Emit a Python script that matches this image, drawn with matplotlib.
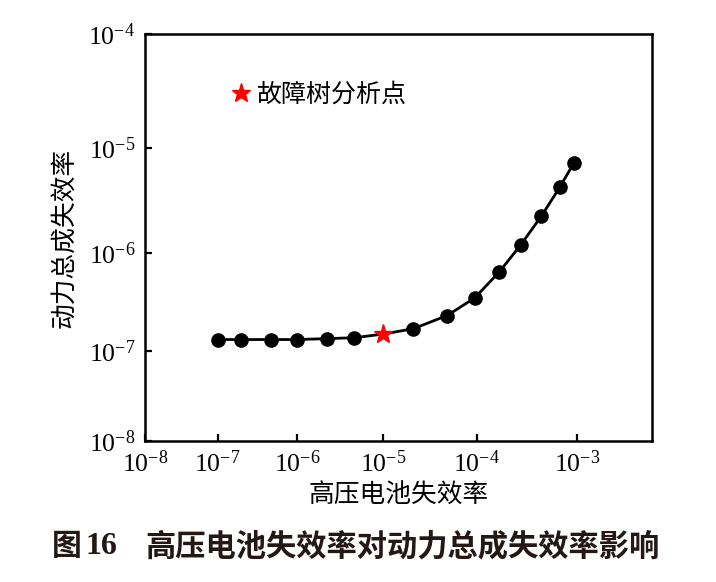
import numpy as np
import matplotlib
matplotlib.use("Agg")
import matplotlib.pyplot as plt
from matplotlib.ticker import LogLocator, LogFormatterSciNotation, NullLocator

plt.rcParams['font.family'] = ['Liberation Serif', 'Noto Sans CJK SC']
plt.rcParams['mathtext.fontset'] = 'stix'

# data
battery_rate = [1e-7, 2e-7, 4.8e-7, 1e-6, 2.27e-6, 4.7e-6, 1e-5, 2.14e-5, 4.9e-5,
                9.5e-5, 1.7e-4, 2.8e-4, 4.5e-4, 6.8e-4, 9.3e-4]
powertrain_rate = [1.33e-7, 1.33e-7, 1.33e-7, 1.33e-7, 1.36e-7, 1.39e-7, 1.52e-7,
                   1.73e-7, 2.37e-7, 3.58e-7, 6.55e-7, 1.21e-6, 2.3e-6, 4.3e-6, 7.2e-6]
fta_x = [1e-5]
fta_y = [1.52e-7]
fta_label = '故障树分析点'
xlabel = '高压电池失效率'
ylabel = '动力总成失效率'

def make_scale(k):
    def fwd(x):
        x = np.asarray(x, dtype=float)
        with np.errstate(divide='ignore', invalid='ignore'):
            u = np.log10(np.where(x > 0, x, np.nan)) + 8
        return u + k * u * u
    def inv(v):
        v = np.asarray(v, dtype=float)
        d = np.sqrt(np.maximum(1 + 4 * k * v, 0))
        u = (-1 + d) / (2 * k)
        return 10 ** (u - 8)
    return fwd, inv

fig = plt.figure(figsize=(7.16, 5.82), dpi=100)
ax = fig.add_axes([145/716, 1-441/582, (652-145)/716, (441-34)/582])

ax.set_xscale('function', functions=make_scale(0.05))
ax.set_yscale('function', functions=make_scale(0.0465))

mask = [i for i, xv in enumerate(battery_rate) if xv not in fta_x]
ax.plot(battery_rate, powertrain_rate, color='black', lw=2.0, zorder=2)
ax.plot([battery_rate[i] for i in mask], [powertrain_rate[i] for i in mask],
        ls='none', marker='o', ms=9.5, color='black', zorder=3)
ax.plot(fta_x, fta_y, ls='none', marker='*', ms=14, color='red', mec='red',
        zorder=4, label=fta_label)

ax.set_xlim(1e-8, 5.1e-3)
ax.set_ylim(1e-8, 1e-4)

for axis in (ax.xaxis, ax.yaxis):
    axis.set_major_locator(LogLocator(base=10, numticks=20))
    axis.set_major_formatter(LogFormatterSciNotation(base=10))
    axis.set_minor_locator(NullLocator())

ax.tick_params(direction='in', length=5, width=1.6, labelsize=18.5, pad=7)
for s in ax.spines.values():
    s.set_linewidth(1.8)

ax.set_xlabel(xlabel, fontsize=18.5, family=['Noto Sans CJK SC'], labelpad=4)
ax.set_ylabel(ylabel, fontsize=18.5, family=['Noto Sans CJK SC'], labelpad=8)

leg = ax.legend(loc='center left', bbox_to_anchor=(0.12, 0.85), frameon=False,
                handletextpad=0.15, handlelength=1.0,
                prop={'family': ['Noto Sans CJK SC'], 'size': 18})

# caption
fig.text(52/716, 1-546/582, '图', fontsize=21.5, fontweight='bold',
         family=['Noto Sans CJK SC'], color='#231815', ha='left', va='center')
fig.text(85/716, 1-546/582, '16', fontsize=23, fontweight='bold',
         family=['Liberation Serif'], color='#231815', ha='left', va='center')
fig.text(145/716, 1-546/582, '高压电池失效率对动力总成失效率影响', fontsize=21.8,
         fontweight='bold', family=['Noto Sans CJK SC'], color='#231815',
         ha='left', va='center')

fig.savefig('out.png', dpi=100)
